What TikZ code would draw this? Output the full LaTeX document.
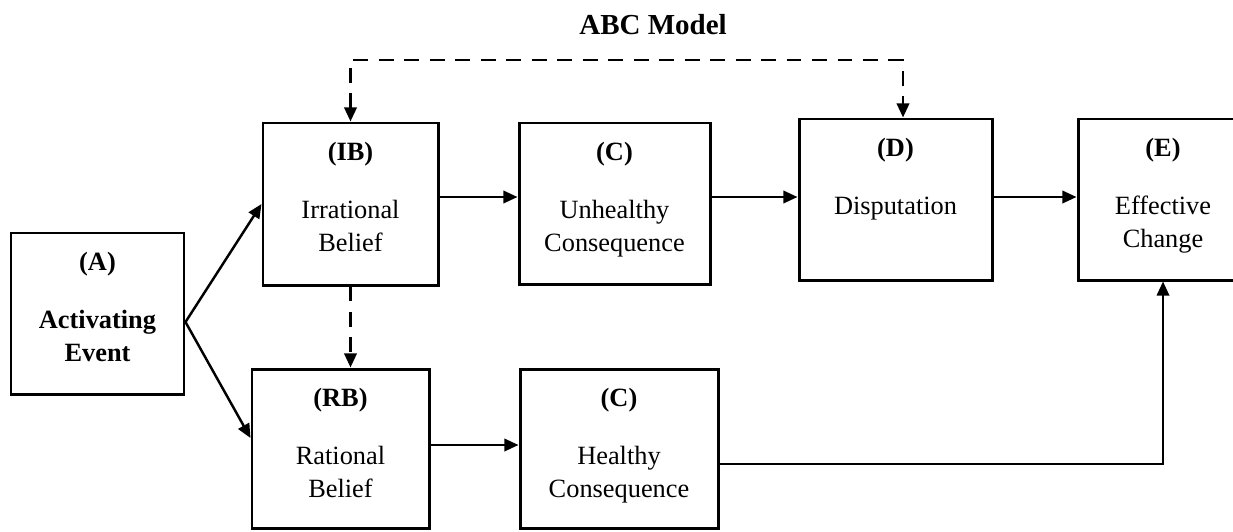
\documentclass[tikz,border=0pt]{standalone}
\usepackage{fontspec}
\setmainfont{Liberation Serif}
\usetikzlibrary{arrows.meta,positioning}

\begin{document}
\begin{tikzpicture}[
		box/.style={draw, line width=1.7pt, minimum height=3.22cm, inner sep=0pt},
		txt/.style={align=center, inner sep=0pt, font=\fontsize{15}{19}\selectfont},
		arr/.style={->, line width=1.4pt},
		dashline/.style={line width=1.5pt, dash pattern=on 8.5pt off 6pt},
		>={Triangle[length=8pt, width=7pt]}
	]
	\useasboundingbox (0,0) rectangle (24.66,-10.62);
	\clip (0,0) rectangle (24.66,-10.62);

	\node[inner sep=0pt, font=\fontsize{16.5}{20}\selectfont\bfseries] (title) at (13.06,-0.5) {ABC Model};

	% boxes
	\node[box, minimum width=3.46cm] (a) at (1.95,-6.27) {};
	\node[box, minimum width=3.5cm, minimum height=3.24cm] (ib) at (7.01,-4.08) {};
	\node[box, minimum width=3.82cm] (cu) at (12.29,-4.07) {};
	\node[box, minimum width=3.86cm] (d) at (17.91,-3.99) {};
	\node[box, minimum width=3.4cm] (e) at (23.26,-3.99) {};
	\node[box, minimum width=3.54cm, minimum height=3.18cm] (rb) at (6.81,-8.97) {};
	\node[box, minimum width=3.96cm, minimum height=3.18cm] (ch) at (12.38,-8.97) {};

	% texts
	\node[txt, below=0.4cm of a.north] (a-txt) {\textbf{(A)}\\[14pt]\textbf{Activating}\\\textbf{Event}};
	\node[txt, below=0.4cm of ib.north] (ib-txt) {\textbf{(IB)}\\[14pt]Irrational\\Belief};
	\node[txt, below=0.4cm of cu.north] (cu-txt) {\textbf{(C)}\\[14pt]Unhealthy\\Consequence};
	\node[txt, below=0.4cm of d.north] (d-txt) {\textbf{(D)}\\[14pt]Disputation};
	\node[txt, below=0.4cm of e.north] (e-txt) {\textbf{(E)}\\[14pt]Effective\\Change};
	\node[txt, below=0.4cm of rb.north] (rb-txt) {\textbf{(RB)}\\[14pt]Rational\\Belief};
	\node[txt, below=0.4cm of ch.north] (ch-txt) {\textbf{(C)}\\[14pt]Healthy\\Consequence};

	\coordinate (row) at (0,-3.94);
	\coordinate (low) at (0,-8.9);
	\coordinate (back) at (0,-9.28);
	\coordinate (ridge) at (0,-1.2);
	\coordinate (dtop) at ([xshift=0.15cm]d.north);

	\draw[arr] ([yshift=-0.17cm]a.east) -- (ib.west);
	\draw[arr] ([yshift=-0.17cm]a.east) -- ([yshift=0.21cm]rb.west);

	\draw[arr] (ib.east |- row) -- (cu.west |- row);
	\draw[arr] (cu.east |- row) -- (d.west |- row);
	\draw[arr] (d.east |- row) -- (e.west |- row);
	\draw[arr] (rb.east |- low) -- (ch.west |- low);
	\draw[arr] (ch.east |- back) -| (e.south);

	\draw[dashline, <->] (ib.north) |- (ridge -| dtop) -- (dtop);
	\draw[dashline, ->] (ib.south) -- (ib.south |- rb.north);
\end{tikzpicture}
\end{document}
